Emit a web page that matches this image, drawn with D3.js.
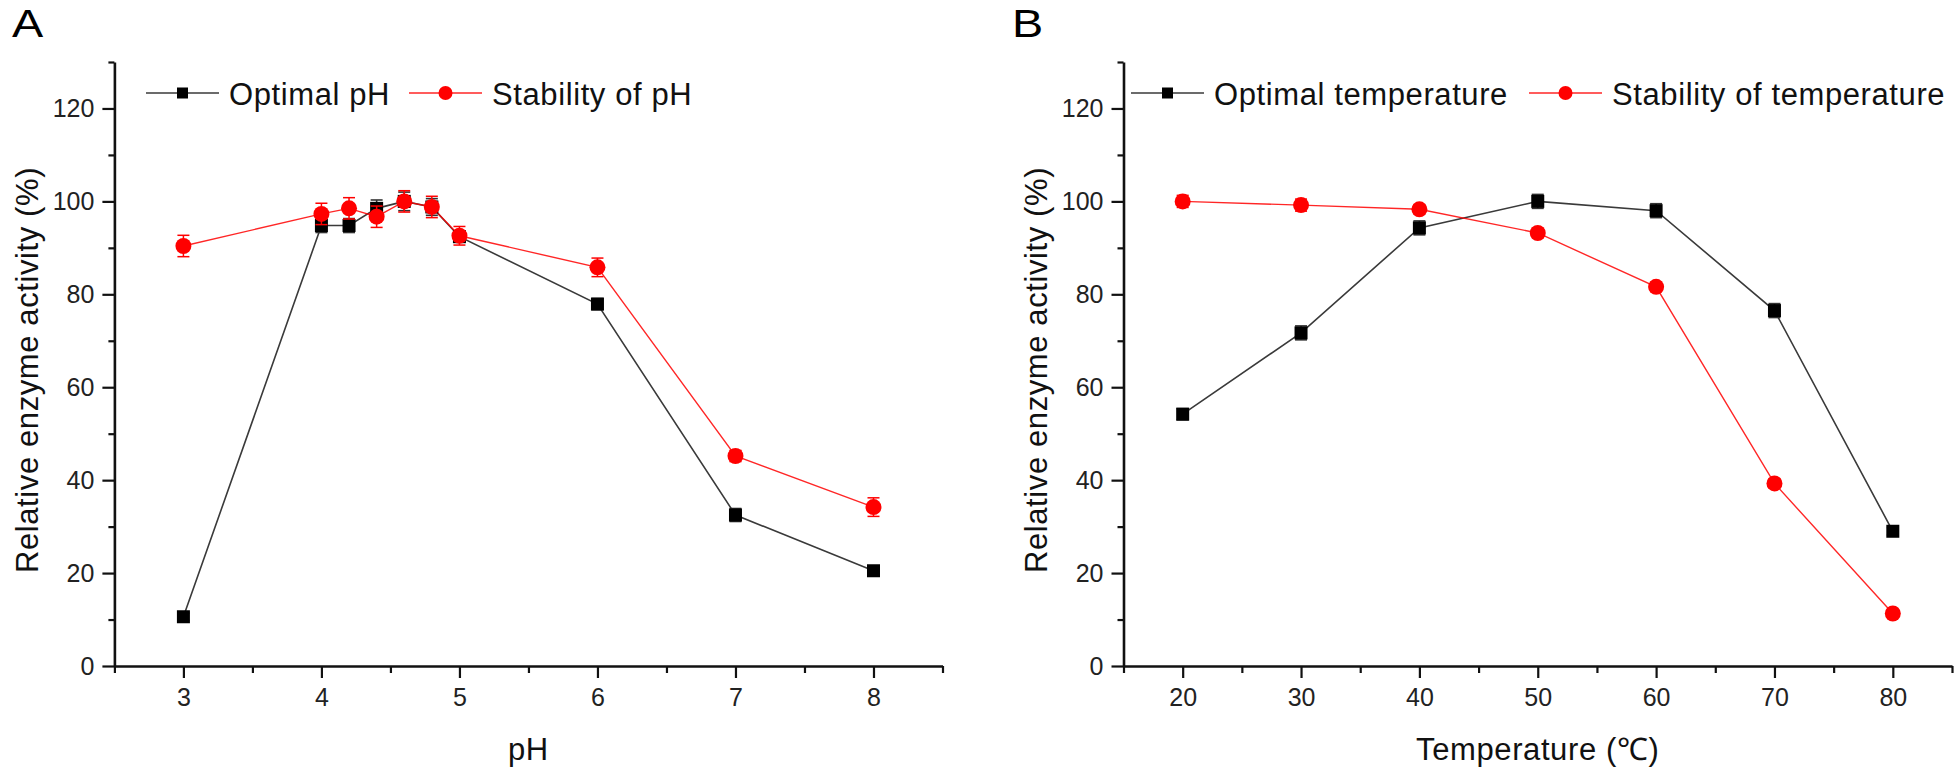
<!DOCTYPE html>
<html>
<head>
<meta charset="utf-8">
<script src="https://cdn.jsdelivr.net/npm/d3@7"></script>
<style>
  html, body { margin: 0; padding: 0; background: #fff; }
  svg { display: block; font-family: "Liberation Sans", Arial, sans-serif; }
</style>
</head>
<body>
<svg id="chart" width="1958" height="774"></svg>
<script>
// ---------- DATA ----------
const phX = [3, 4, 4.2, 4.4, 4.6, 4.8, 5, 6, 7, 8];
const phOptimal = [10.6, 94.8, 94.8, 98.5, 100, 98.8, 92.4, 77.9, 32.5, 20.5];
const phOptimalErr = [0.8, 1.5, 1.5, 1.8, 2.0, 1.8, 1.0, 1.2, 1.4, 0.8];
const phStability = [90.4, 97.3, 98.5, 96.7, 100, 98.8, 92.6, 85.8, 45.2, 34.2];
const phStabilityErr = [2.3, 2.3, 2.3, 2.3, 2.3, 2.3, 2.0, 2.0, 1.2, 2.0];
const phTicks = [3, 4, 5, 6, 7, 8];
const phMinorTicks = [2.5, 3.5, 4.5, 5.5, 6.5, 7.5, 8.5];

const tempX = [20, 30, 40, 50, 60, 70, 80];
const tempOptimal = [54.2, 71.7, 94.3, 100, 98, 76.5, 29];
const tempOptimalErr = [1.2, 1.5, 1.5, 1.5, 1.5, 1.5, 0.8];
const tempStability = [100, 99.2, 98.3, 93.2, 81.6, 39.3, 11.3];
const tempStabilityErr = [1.3, 1.3, 1.0, 1.0, 1.0, 1.0, 0.8];
const tempTicks = [20, 30, 40, 50, 60, 70, 80];
const tempMinorTicks = [15, 25, 35, 45, 55, 65, 75, 85];

const yTicks = [0, 20, 40, 60, 80, 100, 120];
const yMinorTicks = [10, 30, 50, 70, 90, 110, 130];

const yTitle = "Relative enzyme activity (%)";

// ---------- DRAW ----------
const svg = d3.select("#chart");
const BLACK_LINE = "#3a3a3a", RED = "#ff0000";

function drawPanel(cfg) {
  const g = svg.append("g");
  const x = d3.scaleLinear().domain(cfg.xDomain).range([cfg.left, cfg.right]);
  const y = d3.scaleLinear().domain([0, 130]).range([666, 62]);

  // panel letter
  g.append("text").attr("transform", `translate(${cfg.letterX},37) scale(1.2,1)`)
    .attr("font-size", 39).attr("fill", "#000").text(cfg.letter);

  const fmt = d3.format("d");
  const yAxis = d3.axisLeft(y).tickValues(yTicks).tickSize(12).tickPadding(8).tickFormat(fmt);
  const yMinor = d3.axisLeft(y).tickValues(yMinorTicks).tickSize(6).tickFormat("");
  const xAxis = d3.axisBottom(x).tickValues(cfg.xTicks).tickSize(12).tickPadding(10).tickFormat(fmt);
  const xMinor = d3.axisBottom(x).tickValues(cfg.xMinor).tickSize(7).tickFormat("");

  function style(sel) {
    sel.select(".domain").attr("stroke", "#111").attr("stroke-width", 2.6);
    sel.selectAll(".tick line").attr("stroke", "#111").attr("stroke-width", 2.2);
    sel.selectAll(".tick text").attr("font-size", 25).attr("fill", "#222")
      .attr("font-family", "Liberation Sans, Arial, sans-serif");
  }
  g.append("g").attr("transform", `translate(${cfg.left},0)`).call(yMinor).call(style)
    .select(".domain").remove();
  g.append("g").attr("transform", `translate(0,666)`).call(xMinor).call(style)
    .select(".domain").remove();
  g.append("g").attr("transform", `translate(${cfg.left},0)`).call(yAxis.tickSizeOuter(0)).call(style);
  g.append("g").attr("transform", `translate(0,666)`).call(xAxis.tickSizeOuter(0)).call(style);

  // axis titles
  g.append("text")
    .attr("transform", `translate(${cfg.yTitleX},370) rotate(-90)`)
    .attr("text-anchor", "middle").attr("font-size", 31).attr("letter-spacing", 0.6)
    .attr("fill", "#111").text(yTitle);
  g.append("text")
    .attr("x", (cfg.left + cfg.right) / 2).attr("y", 760)
    .attr("text-anchor", "middle").attr("font-size", 31).attr("letter-spacing", 0.6)
    .attr("fill", "#111").text(cfg.xTitle);

  const line = d3.line().x(d => x(d[0])).y(d => y(d[1]));
  const optData = cfg.xs.map((v, i) => [v, cfg.opt[i], cfg.optErr[i]]);
  const stabData = cfg.xs.map((v, i) => [v, cfg.stab[i], cfg.stabErr[i]]);

  g.append("path").datum(optData).attr("d", line).attr("fill", "none")
    .attr("stroke", BLACK_LINE).attr("stroke-width", 1.6);
  g.append("path").datum(stabData).attr("d", line).attr("fill", "none")
    .attr("stroke", RED).attr("stroke-width", 1.4).attr("opacity", 0.85);

  function errBars(data, color, w) {
    const eb = g.append("g").attr("stroke", color).attr("stroke-width", w);
    eb.selectAll(".v").data(data).join("line")
      .attr("x1", d => x(d[0])).attr("x2", d => x(d[0]))
      .attr("y1", d => y(d[1] - d[2])).attr("y2", d => y(d[1] + d[2]));
    eb.selectAll(".t").data(data).join("line")
      .attr("x1", d => x(d[0]) - 6).attr("x2", d => x(d[0]) + 6)
      .attr("y1", d => y(d[1] + d[2])).attr("y2", d => y(d[1] + d[2]));
    eb.selectAll(".b").data(data).join("line")
      .attr("x1", d => x(d[0]) - 6).attr("x2", d => x(d[0]) + 6)
      .attr("y1", d => y(d[1] - d[2])).attr("y2", d => y(d[1] - d[2]));
  }

  errBars(optData, "#333", 1.6);
  g.append("g").selectAll("rect").data(optData).join("rect")
    .attr("x", d => x(d[0]) - 6.5).attr("y", d => y(d[1]) - 6.5)
    .attr("width", 13).attr("height", 13).attr("fill", "#000");
  g.append("g").selectAll("circle").data(stabData).join("circle")
    .attr("cx", d => x(d[0])).attr("cy", d => y(d[1])).attr("r", 8).attr("fill", RED);
  errBars(stabData, RED, 1.5);

  // legend
  const ly = 93;
  const lg = g.append("g");
  lg.append("line").attr("x1", cfg.leg[0]).attr("x2", cfg.leg[0] + 73).attr("y1", ly).attr("y2", ly)
    .attr("stroke", BLACK_LINE).attr("stroke-width", 1.6);
  lg.append("rect").attr("x", cfg.leg[0] + 36.5 - 5.5).attr("y", ly - 5.5)
    .attr("width", 11).attr("height", 11).attr("fill", "#000");
  lg.append("text").attr("x", cfg.leg[0] + 83).attr("y", ly + 12).attr("font-size", 31)
    .attr("letter-spacing", 0.6).attr("fill", "#111").text(cfg.optName);
  lg.append("line").attr("x1", cfg.leg[1]).attr("x2", cfg.leg[1] + 73).attr("y1", ly).attr("y2", ly)
    .attr("stroke", RED).attr("stroke-width", 1.4).attr("opacity", 0.85);
  lg.append("circle").attr("cx", cfg.leg[1] + 36.5).attr("cy", ly).attr("r", 7).attr("fill", RED);
  lg.append("text").attr("x", cfg.leg[1] + 83).attr("y", ly + 12).attr("font-size", 31)
    .attr("letter-spacing", 0.6).attr("fill", "#111").text(cfg.stabName);
}

drawPanel({
  letter: "A", letterX: 12,
  left: 114.4, right: 942.5, xDomain: [2.5, 8.5],
  xTicks: phTicks, xMinor: phMinorTicks,
  xs: phX, opt: phOptimal, optErr: phOptimalErr, stab: phStability, stabErr: phStabilityErr,
  yTitleX: 38, xTitle: "pH",
  optName: "Optimal pH", stabName: "Stability of pH",
  leg: [146, 409]
});

drawPanel({
  letter: "B", letterX: 1012,
  left: 1123.5, right: 1952, xDomain: [15, 85],
  xTicks: tempTicks, xMinor: tempMinorTicks,
  xs: tempX, opt: tempOptimal, optErr: tempOptimalErr, stab: tempStability, stabErr: tempStabilityErr,
  yTitleX: 1047, xTitle: "Temperature (℃)",
  optName: "Optimal temperature", stabName: "Stability of temperature",
  leg: [1131, 1529]
});
</script>
</body>
</html>
